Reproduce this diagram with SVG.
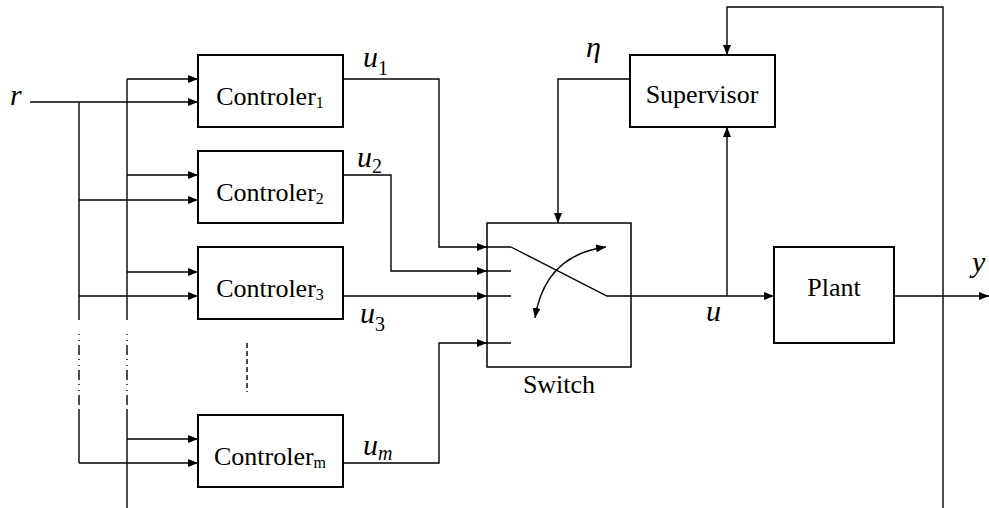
<svg xmlns="http://www.w3.org/2000/svg" width="989" height="508" viewBox="0 0 989 508">
<style>
.box{fill:#fff;stroke:#000;stroke-width:2}
.ln{fill:none;stroke:#000;stroke-width:1.4}
.arr{marker-end:url(#ah)}
.lbl{font-family:"Liberation Serif","Times New Roman",serif;font-size:26px;fill:#000}
.sub{font-size:16px}
.math{font-family:"Liberation Serif","Times New Roman",serif;font-size:30px;font-style:italic;fill:#000}
.msub{font-size:20px;font-style:normal}
.dd{fill:none;stroke:#000;stroke-width:1.4;stroke-dasharray:1 5 1 4 10 4}
</style>
<defs>
<marker id="ah" viewBox="0 0 10 8" refX="10" refY="4" markerWidth="10" markerHeight="8" markerUnits="userSpaceOnUse" orient="auto-start-reverse">
<path d="M0 0 L10 4 L0 8 Z" fill="#000"/>
</marker>
</defs>
<rect width="989" height="508" fill="#fff"/>
<g id="connectors">
<path class="ln arr" d="M30 102 H198"/>
<path class="ln" d="M79 102 V320"/>
<path class="dd" d="M79 334 V410"/>
<path class="ln" d="M79 410 V463"/>
<path class="ln" d="M127 79 V320"/>
<path class="dd" d="M127 334 V410"/>
<path class="ln" d="M127 410 V508"/>
<path class="ln arr" d="M127 79 H198"/>
<path class="ln arr" d="M127 175 H198"/>
<path class="ln arr" d="M79 200 H198"/>
<path class="ln arr" d="M127 272 H198"/>
<path class="ln arr" d="M79 296 H198"/>
<path class="ln arr" d="M127 439 H198"/>
<path class="ln arr" d="M79 463 H198"/>
<path class="ln" d="M247 343 V392" stroke-dasharray="5 3"/>
<path class="ln arr" d="M343 79 H439 V247 H487"/>
<path class="ln arr" d="M343 175 H391 V271 H487"/>
<path class="ln arr" d="M343 296 H487"/>
<path class="ln arr" d="M343 463 H439 V343 H487"/>
<path class="ln arr" d="M630 79 H558 V223"/>
<path class="ln arr" d="M727 296 V127"/>
<path class="ln arr" d="M943 508 V7 H727 V55"/>
<path class="ln arr" d="M894 296 H989"/>
</g>
<g id="controller1">
<rect class="box" x="198" y="55" width="145" height="72"/>
<text class="lbl" x="270" y="105" text-anchor="middle">Controler<tspan class="sub" dy="3">1</tspan></text>
</g>
<g id="controller2">
<rect class="box" x="198" y="151" width="145" height="72"/>
<text class="lbl" x="270" y="201" text-anchor="middle">Controler<tspan class="sub" dy="3">2</tspan></text>
</g>
<g id="controller3">
<rect class="box" x="198" y="247" width="145" height="72"/>
<text class="lbl" x="270" y="297" text-anchor="middle">Controler<tspan class="sub" dy="3">3</tspan></text>
</g>
<g id="controllerm">
<rect class="box" x="198" y="415" width="145" height="72"/>
<text class="lbl" x="270" y="465" text-anchor="middle">Controler<tspan class="sub" dy="3">m</tspan></text>
</g>
<g id="supervisor">
<rect class="box" x="630" y="55" width="145" height="72"/>
<text class="lbl" x="702" y="103" text-anchor="middle">Supervisor</text>
</g>
<g id="plant">
<rect class="box" x="774" y="247" width="120" height="96"/>
<text class="lbl" x="834" y="296" text-anchor="middle">Plant</text>
</g>
<g id="switch">
<rect class="box" x="487" y="223" width="144" height="144" style="stroke-width:1.5"/>
<path class="ln" d="M487 247 H511 M487 271 H511 M487 296 H511 M487 343 H511"/>
<path class="ln arr" d="M511 247 L607 296 H774"/>
<path class="ln" d="M535 318 Q545 255 606 247" marker-start="url(#ah)" marker-end="url(#ah)"/>
<text class="lbl" x="559" y="393" text-anchor="middle">Switch</text>
</g>
<g id="labels">
<text class="math" x="10" y="105">r</text>
<text class="math" x="363" y="67">u<tspan class="msub" dy="8">1</tspan></text>
<text class="math" x="357" y="167">u<tspan class="msub" dy="6">2</tspan></text>
<text class="math" x="360" y="323">u<tspan class="msub" dy="8">3</tspan></text>
<text class="math" x="363" y="455">u<tspan class="msub" dy="5" style="font-style:italic">m</tspan></text>
<text class="math" x="586" y="57">η</text>
<text class="math" x="706" y="321">u</text>
<text class="math" x="972" y="272">y</text>
</g>
</svg>
